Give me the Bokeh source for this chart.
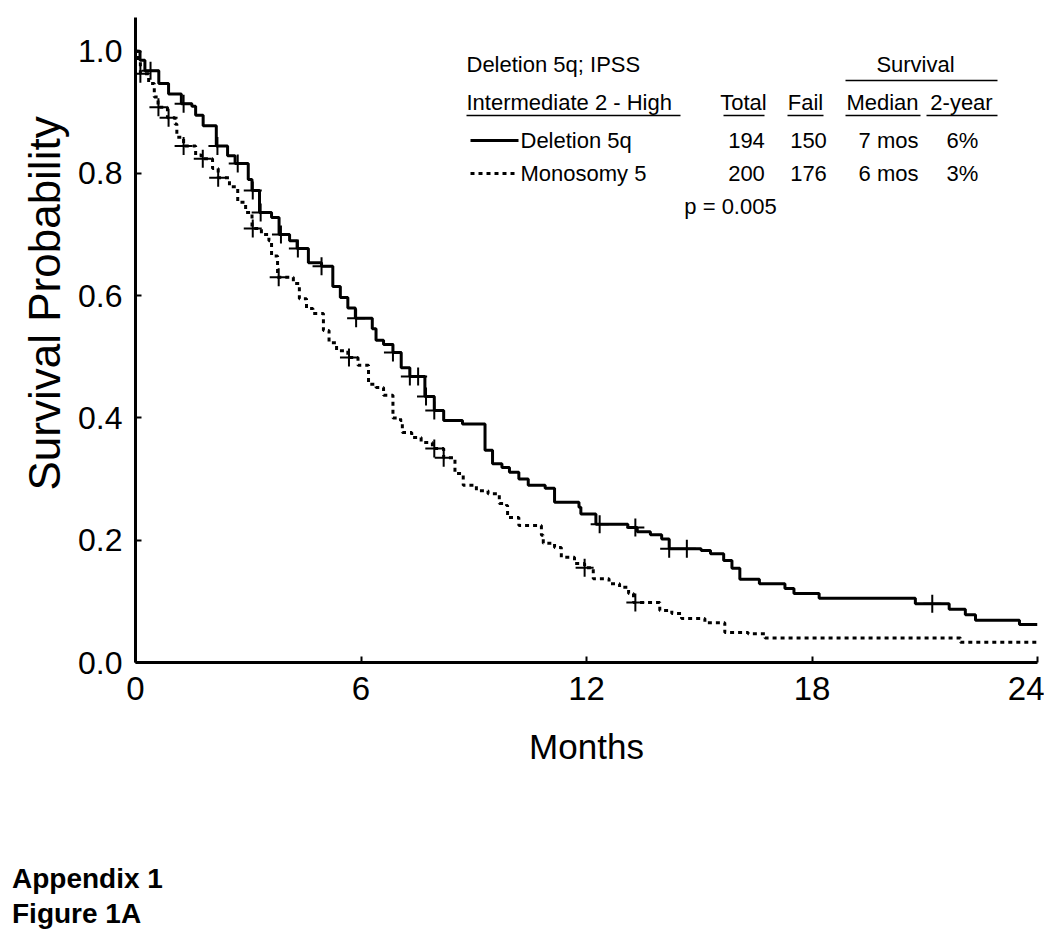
import numpy as np
from bokeh.plotting import figure
from bokeh.models import Range1d, FixedTicker, PrintfTickFormatter, Label, Div, Title
from bokeh.layouts import column
from bokeh.embed import file_html
from bokeh.resources import INLINE

# ---------------- data ----------------
del_t = [0, 0.12, 0.25, 0.62, 0.88, 1.22, 1.5, 1.6, 1.8, 2.15, 2.45, 2.65, 3.0, 3.1,
         3.3, 3.62, 3.82, 4.1, 4.3, 4.6, 4.95, 5.25, 5.45, 5.65, 5.85, 6.3, 6.4, 6.6,
         6.85, 7.07, 7.3, 7.7, 7.95, 8.2, 8.7, 9.3, 9.5, 9.75, 9.95, 10.2, 10.45, 10.9,
         11.15, 11.8, 11.85, 12.25, 13.1, 13.35, 13.7, 14.0, 14.2, 15.05, 15.3, 15.65,
         15.87, 16.08, 16.6, 17.28, 17.52, 18.19, 20.75, 21.65, 22.08, 22.35, 23.52, 24]
del_s = [1.0, 0.985, 0.968, 0.947, 0.930, 0.914, 0.910, 0.895, 0.878, 0.845, 0.829, 0.816, 0.790, 0.772,
         0.736, 0.728, 0.700, 0.690, 0.677, 0.654, 0.648, 0.615, 0.597, 0.580, 0.563, 0.546, 0.527, 0.520,
         0.507, 0.482, 0.468, 0.435, 0.412, 0.396, 0.390, 0.347, 0.325, 0.319, 0.311, 0.300, 0.290, 0.285,
         0.262, 0.254, 0.243, 0.226, 0.221, 0.214, 0.209, 0.202, 0.186, 0.183, 0.178, 0.167,
         0.154, 0.136, 0.129, 0.121, 0.113, 0.105, 0.096, 0.087, 0.078, 0.069, 0.062, 0.062]
del_cens = [0.4, 1.28, 2.18, 2.72, 3.12, 3.33, 3.87, 4.32, 4.95, 5.87, 6.85, 7.3, 7.52,
            7.73, 7.95, 12.35, 13.3, 14.2, 14.67, 21.2]

mono_t = [0, 0.08, 0.13, 0.35, 0.5, 0.6, 0.85, 1.05, 1.1, 1.28, 1.6, 1.75, 2.05, 2.2, 2.5,
          2.72, 2.93, 3.1, 3.35, 3.55, 3.62, 3.78, 4.2, 4.36, 4.55, 4.72, 5.0, 5.15, 5.35,
          5.65, 5.92, 6.2, 6.4, 6.6, 6.85, 7.05, 7.1, 7.35, 7.6, 7.9, 8.2, 8.5, 8.72, 9.07,
          9.38, 9.68, 9.87, 9.9, 10.2, 10.8, 10.85, 11.15, 11.33, 11.68, 11.95, 12.18, 12.6,
          12.88, 13.12, 13.25, 13.95, 14.27, 14.53, 15.15, 15.68, 16.3, 16.75, 21.95, 24]
mono_s = [1.0, 0.985, 0.963, 0.947, 0.925, 0.908, 0.891, 0.881, 0.859, 0.845, 0.830, 0.824, 0.808, 0.793, 0.778,
          0.753, 0.736, 0.710, 0.700, 0.690, 0.665, 0.630, 0.620, 0.595, 0.579, 0.571, 0.543, 0.523, 0.510,
          0.499, 0.486, 0.455, 0.450, 0.437, 0.400, 0.396, 0.376, 0.368, 0.360, 0.350, 0.335, 0.309, 0.290, 0.281,
          0.276, 0.260, 0.257, 0.237, 0.224, 0.208, 0.195, 0.188, 0.172, 0.162, 0.155, 0.137, 0.129,
          0.123, 0.113, 0.098, 0.085, 0.080, 0.072, 0.065, 0.049, 0.047, 0.040, 0.033, 0.033]
mono_cens = [0.13, 0.61, 0.88, 1.28, 1.79, 2.2, 3.12, 3.81, 5.68, 7.95, 8.2, 11.95, 13.3]

groups = ["Deletion 5q", "Monosomy 5"]
totals = ["194", "200"]
fails = ["150", "176"]
medians = ["7 mos", "6 mos"]
two_year = ["6%", "3%"]
p_value = "p = 0.005"
footer = ["Appendix 1", "Figure 1A"]

x_ticks = [0, 6, 12, 18, 24]
y_ticks = [0.0, 0.2, 0.4, 0.6, 0.8, 1.0]


def at(ts, ss, t):
    i = np.searchsorted(np.array(ts), t, side="right") - 1
    return float(ss[i])


FONT = "Liberation Sans"

ytitle = Title(text="Survival Probability", align="left", offset=172, standoff=14,
               text_font=FONT, text_font_size="44px", text_font_style="normal",
               text_color="black")

p = figure(width=1044, height=800, x_range=Range1d(0, 24), y_range=Range1d(0, 1.055),
           output_backend="svg", toolbar_location=None, title=ytitle, title_location="left",
           min_border_left=135, min_border_right=7, min_border_top=17, min_border_bottom=138)
p.outline_line_color = None
p.grid.visible = False
p.background_fill_color = "white"

for ax in (p.xaxis[0], p.yaxis[0]):
    ax.axis_line_width = 3
    ax.axis_line_color = "black"
    ax.major_tick_in = 6
    ax.major_tick_out = 0
    ax.major_tick_line_width = 2
    ax.major_tick_line_color = "black"
    ax.minor_tick_line_color = None
    ax.major_label_text_font = FONT
    ax.major_label_text_color = "black"
    ax.axis_label_text_font = FONT
    ax.axis_label_text_font_style = "normal"
    ax.axis_label_text_color = "black"

p.xaxis.ticker = FixedTicker(ticks=x_ticks)
p.yaxis.ticker = FixedTicker(ticks=y_ticks)
p.yaxis.formatter = PrintfTickFormatter(format="%.1f")
p.xaxis.major_label_text_font_size = "33px"
p.yaxis.major_label_text_font_size = "32px"
p.xaxis.major_label_standoff = 14
p.yaxis.major_label_standoff = 13
p.xaxis.axis_label = "Months"
p.xaxis.axis_label_text_font_size = "35px"
p.xaxis.axis_label_standoff = 24

# curves
p.step(del_t, del_s, mode="after", line_width=3, line_color="black")
p.step(mono_t, mono_s, mode="after", line_width=3, line_color="black", line_dash="4 4")

p.scatter(del_cens, [at(del_t, del_s, t) for t in del_cens], marker="cross", size=18,
          line_width=2, line_color="black")
p.scatter(mono_cens, [at(mono_t, mono_s, t) for t in mono_cens], marker="cross", size=18,
          line_width=2, line_color="black")

# legend / table (page pixel -> data)
def tx(px):
    return (px - 135) / (902 / 24)


def sy(py):
    return (662 - py) / 611.5


LF = "22px"


def txt(s, px, py, align="left", size=LF):
    p.add_layout(Label(x=tx(px), y=sy(py), text=s, text_font=FONT, text_font_size=size,
                       text_align=align, text_baseline="middle", text_color="black"))


txt("Deletion 5q; IPSS", 466, 64)
txt("Survival", 915, 64, "center")
p.segment(x0=[tx(845)], y0=[sy(80)], x1=[tx(997)], y1=[sy(80)], line_width=1.5, line_color="black")

txt("Intermediate 2 - High", 466, 102)
hdrs = [("Total", 743), ("Fail", 805), ("Median", 882), ("2-year", 961)]
for s, cx in hdrs:
    txt(s, cx, 102, "center")
und = [(466, 680), (723, 764), (787, 823), (845, 920), (926, 997)]
p.segment(x0=[tx(a) for a, b in und], y0=[sy(115)] * len(und),
          x1=[tx(b) for a, b in und], y1=[sy(115)] * len(und), line_width=1.5, line_color="black")

rows_y = [140, 173]
p.line([tx(470), tx(518)], [sy(140), sy(140)], line_width=3, line_color="black")
p.line([tx(470), tx(518)], [sy(173), sy(173)], line_width=3, line_color="black", line_dash="4 4")
cols = [746, 808, 888, 962]
for i in range(2):
    y = rows_y[i]
    txt(groups[i], 520, y)
    txt(totals[i], cols[0], y, "center")
    txt(fails[i], cols[1], y, "center")
    txt(medians[i], cols[2], y, "center")
    txt(two_year[i], cols[3], y, "center")

txt(p_value, 730, 206, "center")

# footer
div = Div(text=('<div style="font-family: \'Liberation Sans\', Arial, sans-serif; font-size: 28px; '
                'font-weight: bold; line-height: 35px; color: black;">'
                + "<br>".join(footer) + "</div>"),
          width=300, height=72, margin=(61, 0, 0, 12))

layout = column(p, div)
open("out.html", "w").write(file_html(layout, INLINE))
